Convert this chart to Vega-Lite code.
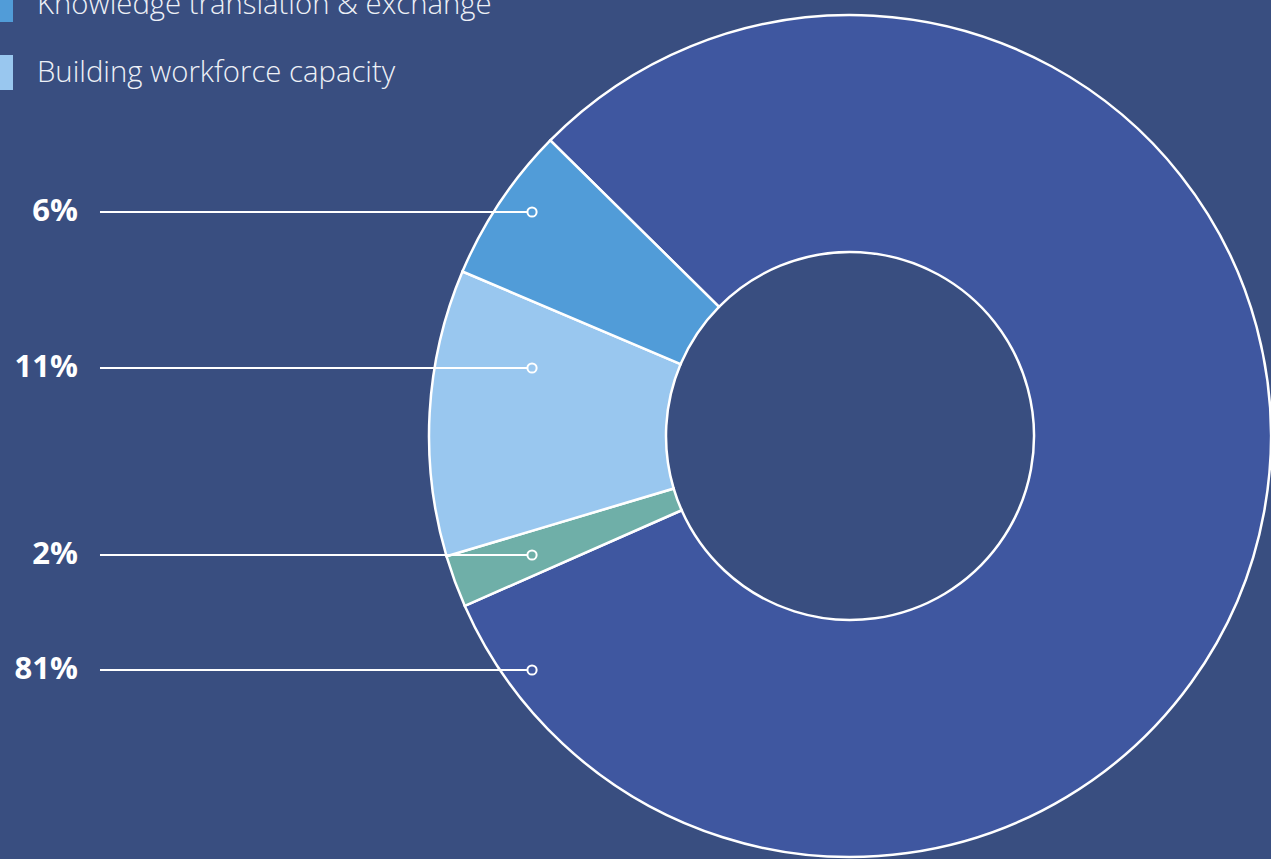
{
  "$schema": "https://vega.github.io/schema/vega-lite/v6.json",
  "width": 842,
  "height": 842,
  "autosize": "none",
  "padding": {"left": 429, "top": 15, "right": 0, "bottom": 2},
  "background": "#394E80",
  "config": {"view": {"stroke": null}},
  "data": {
    "values": [
      {"category": "Research funding", "value": 81, "label": "81%", "order": 4},
      {"category": "Other initiatives", "value": 2, "label": "2%", "order": 3},
      {"category": "Building workforce capacity", "value": 11, "label": "11%", "order": 2},
      {"category": "Knowledge translation & exchange", "value": 6, "label": "6%", "order": 1}
    ]
  },
  "layer": [
    {
      "mark": {"type": "arc", "innerRadius": 184, "outerRadius": 421, "stroke": "white", "strokeWidth": 2.5},
      "encoding": {
        "theta": {"field": "value", "type": "quantitative", "stack": true, "scale": {"range": [5.4908, 11.774]}},
        "order": {"field": "order", "sort": "descending"},
        "color": {
          "field": "category",
          "type": "nominal",
          "scale": {
            "domain": ["Research funding", "Other initiatives", "Knowledge translation & exchange", "Building workforce capacity"],
            "range": ["#3F57A0", "#6FAFA8", "#519CD8", "#99C7EF"]
          },
          "legend": {
            "orient": "none",
            "legendX": -451,
            "legendY": -164,
            "title": null,
            "symbolType": "square",
            "symbolSize": 1225,
            "symbolStrokeWidth": 0,
            "symbolOpacity": 1,
            "labelFontSize": 29.3,
            "labelFont": "Open Sans",
            "labelFontWeight": 300,
            "labelColor": "#EEF1F7",
            "labelOffset": 24,
            "rowPadding": 33,
            "labelLimit": 900
          }
        }
      }
    },
    {
      "mark": {"type": "rule", "stroke": "white", "strokeWidth": 2},
      "encoding": {
        "x": {"datum": -1.7815, "type": "quantitative", "scale": {"domain": [-1, 1], "nice": false, "zero": false}, "axis": null},
        "x2": {"datum": -0.767},
        "y": {"field": "order", "type": "quantitative", "scale": {"domain": [1, 2, 3, 4], "range": [197, 353, 540, 655], "nice": false, "zero": false}, "axis": null}
      }
    },
    {
      "mark": {"type": "point", "filled": false, "color": "white", "stroke": "white", "strokeWidth": 2, "size": 85, "opacity": 1},
      "encoding": {
        "x": {"datum": -0.7553, "type": "quantitative", "scale": {"domain": [-1, 1], "nice": false, "zero": false}, "axis": null},
        "y": {"field": "order", "type": "quantitative", "scale": {"domain": [1, 2, 3, 4], "range": [197, 353, 540, 655], "nice": false, "zero": false}, "axis": null}
      }
    },
    {
      "mark": {"type": "text", "align": "right", "baseline": "middle", "font": "Open Sans", "fontWeight": "bold", "fontSize": 31, "color": "white"},
      "encoding": {
        "x": {"datum": -1.8337, "type": "quantitative", "scale": {"domain": [-1, 1], "nice": false, "zero": false}, "axis": null},
        "y": {"field": "order", "type": "quantitative", "scale": {"domain": [1, 2, 3, 4], "range": [197, 353, 540, 655], "nice": false, "zero": false}, "axis": null},
        "text": {"field": "label"}
      }
    }
  ]
}
